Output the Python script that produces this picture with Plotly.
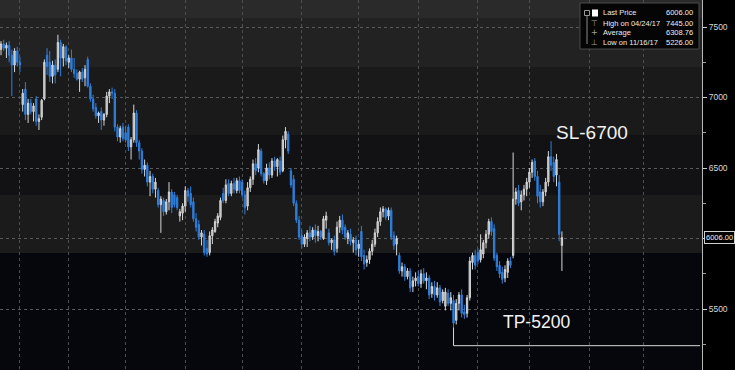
import plotly.graph_objects as go
import pandas as pd

# ---------------- data ----------------
OPEN = [7340, 7380, 7350, 7370, 7300, 7230, 7330, 7250, 6950, 7060, 6880, 6960, 6900, 6990, 6830, 6860, 6990, 7300, 7250, 7150,
        7230, 7200, 7390, 7280, 7360, 7250, 7280, 7200, 7170, 7130, 7180, 7140, 7270, 7080, 6990, 6930, 6870, 6900, 6840, 6880,
        7010, 7040, 7030, 6790, 6720, 6790, 6750, 6790, 6650, 6700, 6890, 6680, 6620, 6490, 6520, 6400, 6440, 6350, 6340, 6240,
        6270, 6190, 6260, 6330, 6310, 6290, 6160, 6180, 6230, 6340, 6320, 6260, 6140, 6100, 6010, 6030, 5930, 5900, 6020, 6050,
        6110, 6150, 6320, 6270, 6390, 6320, 6390, 6340, 6410, 6400, 6310, 6230, 6360, 6420, 6530, 6500, 6620, 6460, 6410, 6500,
        6450, 6550, 6510, 6550, 6480, 6700, 6740, 6480, 6420, 6250, 6130, 6020, 5960, 6000, 6040, 6010, 6060, 6020, 6050, 6000,
        6130, 6040, 5970, 5990, 5930, 6080, 6130, 6080, 6000, 6030, 5970, 5990, 5930, 6050, 5880, 5830, 5850, 5910, 5960, 6040,
        6120, 6190, 6210, 6160, 6200, 6020, 5960, 5880, 5770, 5800, 5730, 5770, 5660, 5700, 5730, 5680, 5750, 5700, 5720, 5610,
        5660, 5600, 5650, 5560, 5520, 5610, 5540, 5560, 5420, 5540, 5600, 5480, 5470, 5580, 5830, 5880, 5900, 5850, 5890, 5970,
        6030, 6120, 6070, 5880, 5810, 5760, 5720, 5760, 5840, 5880, 6280, 6340, 6260, 6310, 6350, 6400, 6470, 6550, 6440, 6330,
        6260, 6330, 6400, 6580, 6540, 6450, 6400, 5950]
HIGH = [7400, 7410, 7390, 7400, 7340, 7350, 7360, 7290, 7060, 7110, 6990, 6990, 6960, 7010, 6880, 6990, 7270, 7350, 7330, 7260,
        7270, 7445, 7410, 7380, 7370, 7300, 7340, 7280, 7200, 7190, 7210, 7230, 7290, 7100, 7020, 6960, 6900, 6930, 6890, 7040,
        7060, 7070, 7060, 6810, 6800, 6820, 6800, 6810, 6720, 6950, 6910, 6700, 6640, 6560, 6540, 6480, 6460, 6430, 6360, 6300,
        6290, 6280, 6400, 6350, 6330, 6310, 6210, 6250, 6370, 6360, 6370, 6290, 6180, 6130, 6060, 6060, 5990, 6050, 6080, 6140,
        6180, 6290, 6360, 6420, 6420, 6410, 6430, 6430, 6440, 6420, 6340, 6400, 6440, 6560, 6570, 6670, 6640, 6470, 6530, 6540,
        6570, 6580, 6570, 6580, 6730, 6790, 6760, 6500, 6450, 6270, 6160, 6060, 6030, 6060, 6090, 6080, 6100, 6090, 6060, 6160,
        6190, 6070, 6000, 6020, 6120, 6160, 6170, 6100, 6060, 6070, 6010, 6020, 5990, 6090, 5920, 5880, 5930, 5990, 6070, 6150,
        6220, 6230, 6220, 6220, 6220, 6050, 6020, 5900, 5830, 5820, 5790, 5790, 5730, 5760, 5770, 5780, 5790, 5760, 5740, 5690,
        5700, 5690, 5670, 5640, 5650, 5640, 5620, 5600, 5570, 5620, 5640, 5530, 5600, 5870, 5900, 5920, 5930, 6030, 5990, 6060,
        6140, 6150, 6100, 5900, 5840, 5800, 5810, 5860, 5870, 6610, 6360, 6380, 6340, 6380, 6430, 6500, 6560, 6570, 6480, 6380,
        6350, 6430, 6620, 6690, 6580, 6600, 6450, 6050]
LOW = [7300, 7330, 7280, 7250, 7010, 7180, 7220, 7180, 6900, 6840, 6820, 6880, 6830, 6800, 6770, 6840, 6980, 7160, 7110, 7100,
       7100, 7180, 7150, 7220, 7230, 7210, 7180, 7140, 7120, 7040, 7110, 7080, 7070, 6970, 6900, 6850, 6820, 6770, 6800, 6860,
       6960, 6990, 6760, 6690, 6680, 6690, 6680, 6620, 6560, 6680, 6650, 6560, 6460, 6440, 6370, 6300, 6320, 6290, 6220, 6040,
       6160, 6170, 6200, 6180, 6220, 6200, 6120, 6130, 6190, 6260, 6220, 6120, 6050, 5990, 5950, 5880, 5870, 5880, 5960, 6040,
       6080, 6130, 6250, 6250, 6300, 6300, 6320, 6320, 6320, 6290, 6170, 6200, 6330, 6380, 6450, 6470, 6440, 6390, 6380, 6420,
       6430, 6480, 6440, 6450, 6470, 6640, 6600, 6360, 6230, 6110, 5990, 5930, 5940, 5940, 5980, 5990, 5970, 5980, 5990, 5990,
       6070, 5950, 5920, 5880, 5900, 6040, 6030, 5990, 5960, 5950, 5900, 5880, 5870, 5840, 5780, 5800, 5820, 5880, 5940, 6010,
       6090, 6150, 6130, 6130, 5990, 5920, 5880, 5750, 5730, 5700, 5710, 5620, 5620, 5660, 5660, 5650, 5680, 5640, 5570, 5580,
       5560, 5580, 5520, 5540, 5490, 5520, 5490, 5370, 5390, 5490, 5440, 5430, 5440, 5560, 5780, 5780, 5820, 5830, 5860, 5930,
       6000, 6020, 5840, 5770, 5720, 5680, 5690, 5720, 5790, 5860, 6240, 6230, 6200, 6270, 6300, 6360, 6430, 6410, 6250, 6220,
       6230, 6300, 6370, 6480, 6400, 6370, 5980, 5770]
CLOSE = [7380, 7350, 7370, 7300, 7230, 7330, 7250, 7230, 7030, 6880, 6960, 6900, 6940, 6830, 6850, 6980, 7250, 7220, 7150, 7230,
         7160, 7390, 7280, 7360, 7260, 7280, 7200, 7170, 7130, 7180, 7130, 7200, 7080, 6990, 6920, 6870, 6890, 6840, 6880, 7010,
         7040, 7030, 6790, 6720, 6780, 6710, 6700, 6650, 6700, 6890, 6680, 6620, 6490, 6520, 6400, 6440, 6350, 6400, 6240, 6280,
         6190, 6260, 6330, 6220, 6240, 6220, 6190, 6230, 6340, 6300, 6240, 6140, 6080, 6010, 6040, 5900, 5890, 6020, 6060, 6120,
         6160, 6270, 6270, 6380, 6320, 6390, 6350, 6410, 6340, 6310, 6220, 6360, 6420, 6530, 6480, 6630, 6460, 6410, 6500, 6450,
         6550, 6510, 6560, 6470, 6700, 6760, 6620, 6380, 6250, 6130, 6010, 5960, 6010, 6040, 6010, 6060, 6020, 6050, 6010, 6140,
         6160, 5970, 5990, 5910, 6080, 6130, 6060, 6010, 6040, 5980, 5990, 5920, 5960, 5870, 5820, 5850, 5910, 5960, 6040, 6120,
         6190, 6210, 6150, 6200, 6010, 5950, 6000, 5770, 5800, 5730, 5770, 5650, 5700, 5720, 5680, 5750, 5700, 5720, 5600, 5660,
         5600, 5650, 5550, 5620, 5620, 5540, 5580, 5400, 5540, 5600, 5470, 5460, 5580, 5840, 5880, 5810, 5840, 5920, 5970, 6030,
         6120, 6050, 5860, 5800, 5750, 5710, 5780, 5840, 5810, 6280, 6330, 6250, 6310, 6350, 6400, 6470, 6540, 6440, 6300, 6260,
         6330, 6400, 6580, 6520, 6440, 6560, 6030, 6006]

UK_HOLIDAYS = ["2017-04-14", "2017-04-17", "2017-05-01", "2017-05-29", "2017-08-28",
               "2017-12-25", "2017-12-26", "2018-01-01", "2018-03-30", "2018-04-02"]
START_DATE = "2017-03-23"
END_DATE = "2018-03-31"

Y_TICKS = [5500, 6000, 6500, 7000, 7500]
Y_TICK_TEXT = ["5500", "", "6500", "7000", "7500"]

LEGEND_LABELS = ["Last Price", "High on 04/24/17", "Average", "Low on 11/16/17"]
LEGEND_VALUES = ["6006.00", "7445.00", "6308.76", "5226.00"]
LAST_PRICE = 6006.00

# background shading bands (price boundaries)
BAND_EDGES = [5897, 6309, 6734, 7216, 7564, 8000]
BAND_COLORS = ["#1b1b1c", "#121215", "#1a1a1a", "#222222", "#2a2a2a"]

SL_TEXT = "SL-6700"
TP_TEXT = "TP-5200"
TP_LINE_LEVEL = 5240

# ---------------- build ----------------
cal = pd.bdate_range(START_DATE, END_DATE, freq="C", holidays=UK_HOLIDAYS)
month_starts = [i for i in range(1, len(cal)) if cal[i].month != cal[i - 1].month]
n = len(OPEN)
xs = list(range(n))
dates = [d.strftime("%m/%d/%y") for d in cal[:n]]

fig = go.Figure()
fig.add_trace(go.Candlestick(
    x=xs, open=OPEN, high=HIGH, low=LOW, close=CLOSE, text=dates,
    increasing=dict(line=dict(color="#d6d6d6", width=1), fillcolor="#b4b4b4"),
    decreasing=dict(line=dict(color="#2f7fdc", width=1), fillcolor="#2f7fdc"),
    whiskerwidth=0, showlegend=False,
))

shapes = []
for lo, hi, col in zip(BAND_EDGES[:-1], BAND_EDGES[1:], BAND_COLORS):
    shapes.append(dict(type="rect", xref="paper", yref="y", x0=0, x1=1, y0=lo, y1=hi,
                       fillcolor=col, line=dict(width=0), layer="below"))

# TP bracket line
i_low = min(range(n), key=lambda i: LOW[i])
shapes.append(dict(type="line", xref="x", yref="y", x0=i_low, x1=i_low, y0=LOW[i_low], y1=TP_LINE_LEVEL,
                   line=dict(color="#d8d8d8", width=1)))
shapes.append(dict(type="line", xref="x", yref="y", x0=i_low, x1=258.0, y0=TP_LINE_LEVEL, y1=TP_LINE_LEVEL,
                   line=dict(color="#d8d8d8", width=1)))

# legend box
W, H = 702.0, 370.0
def px(x):
    return x / W
def py(y):
    return 1 - y / H

shapes.append(dict(type="rect", xref="paper", yref="paper", x0=px(580), x1=px(699), y0=py(49), y1=py(3),
                   fillcolor="#050505", line=dict(color="#4a4a4a", width=1)))
shapes.append(dict(type="line", xref="paper", yref="paper", x0=px(587), x1=px(587), y0=py(16), y1=py(44),
                   line=dict(color="#8a8a8a", width=1)))
shapes.append(dict(type="rect", xref="paper", yref="paper", x0=px(584.5), x1=px(589.5), y0=py(15.5), y1=py(10.5),
                   fillcolor="rgba(0,0,0,0)", line=dict(color="#9a9a9a", width=1)))
shapes.append(dict(type="rect", xref="paper", yref="paper", x0=px(592), x1=px(598), y0=py(16.5), y1=py(9.5),
                   fillcolor="#ffffff", line=dict(width=0)))

annotations = []
row_y = [13, 23, 33, 42.5]
icons = ["", "⊤", "+", "⊥"]
for lab, val, ry, ic in zip(LEGEND_LABELS, LEGEND_VALUES, row_y, icons):
    annotations.append(dict(xref="paper", yref="paper", x=px(601), y=py(ry), text=lab, showarrow=False,
                            xanchor="left", yanchor="middle",
                            font=dict(family="Liberation Sans, Arial", size=7.5, color="#ececec")))
    annotations.append(dict(xref="paper", yref="paper", x=px(695), y=py(ry), text=val, showarrow=False,
                            xanchor="right", yanchor="middle",
                            font=dict(family="Liberation Sans, Arial", size=7.5, color="#ececec")))
    if ic:
        annotations.append(dict(xref="paper", yref="paper", x=px(594.5), y=py(ry), text=ic, showarrow=False,
                                xanchor="center", yanchor="middle",
                                font=dict(family="DejaVu Sans", size=8, color="#a0a0a0")))

# last price tag on axis
annotations.append(dict(xref="paper", yref="y", x=1, y=LAST_PRICE, text="6006.00", showarrow=False,
                        xanchor="left", yanchor="middle", xshift=2,
                        font=dict(family="Liberation Sans, Arial", size=7.5, color="#f0f0f0"),
                        bgcolor="#000000", bordercolor="#d0d0d0", borderwidth=1, borderpad=1))

annotations.append(dict(xref="paper", yref="paper", x=px(592), y=py(132), text=SL_TEXT, showarrow=False,
                        xanchor="center", yanchor="middle",
                        font=dict(family="Liberation Sans, Arial", size=19, color="#f2f2f2")))
annotations.append(dict(xref="paper", yref="paper", x=px(536), y=py(322), text=TP_TEXT, showarrow=False,
                        xanchor="center", yanchor="middle",
                        font=dict(family="Liberation Sans, Arial", size=17.5, color="#f2f2f2")))

fig.update_layout(
    width=735, height=370,
    margin=dict(l=0, r=33, t=0, b=0, autoexpand=False),
    paper_bgcolor="#000000", plot_bgcolor="#06070c",
    shapes=shapes, annotations=annotations,
    showlegend=False,
    xaxis=dict(range=[-0.37, 258.7], tickmode="array", tickvals=month_starts, showticklabels=False,
               showgrid=True, gridcolor="#4e4e4e", griddash="dot", gridwidth=1, zeroline=False,
               showline=False, ticks="", rangeslider=dict(visible=False), fixedrange=True),
    yaxis=dict(side="right", range=[5067.5, 7691.5], tickmode="array", tickvals=Y_TICKS, ticktext=Y_TICK_TEXT,
               ticks="outside", ticklen=4, tickcolor="#d0d0d0", tickwidth=1, automargin=False,
               showline=True, linecolor="#b8b8b8", linewidth=1,
               showgrid=True, gridcolor="#5a5a5a", griddash="dot", gridwidth=1, zeroline=False,
               tickfont=dict(family="Liberation Sans, Arial", size=8.5, color="#d8d8d8"),
               minor=dict(tickmode="linear", tick0=5000, dtick=250, ticks="outside", ticklen=3,
                          tickcolor="#9a9a9a", showgrid=False),
               fixedrange=True),
)

fig.write_html("out.html", config={"displayModeBar": False},
               post_script="document.body.style.margin='0';document.body.style.padding='0';"
                           "document.body.style.background='#000';")
